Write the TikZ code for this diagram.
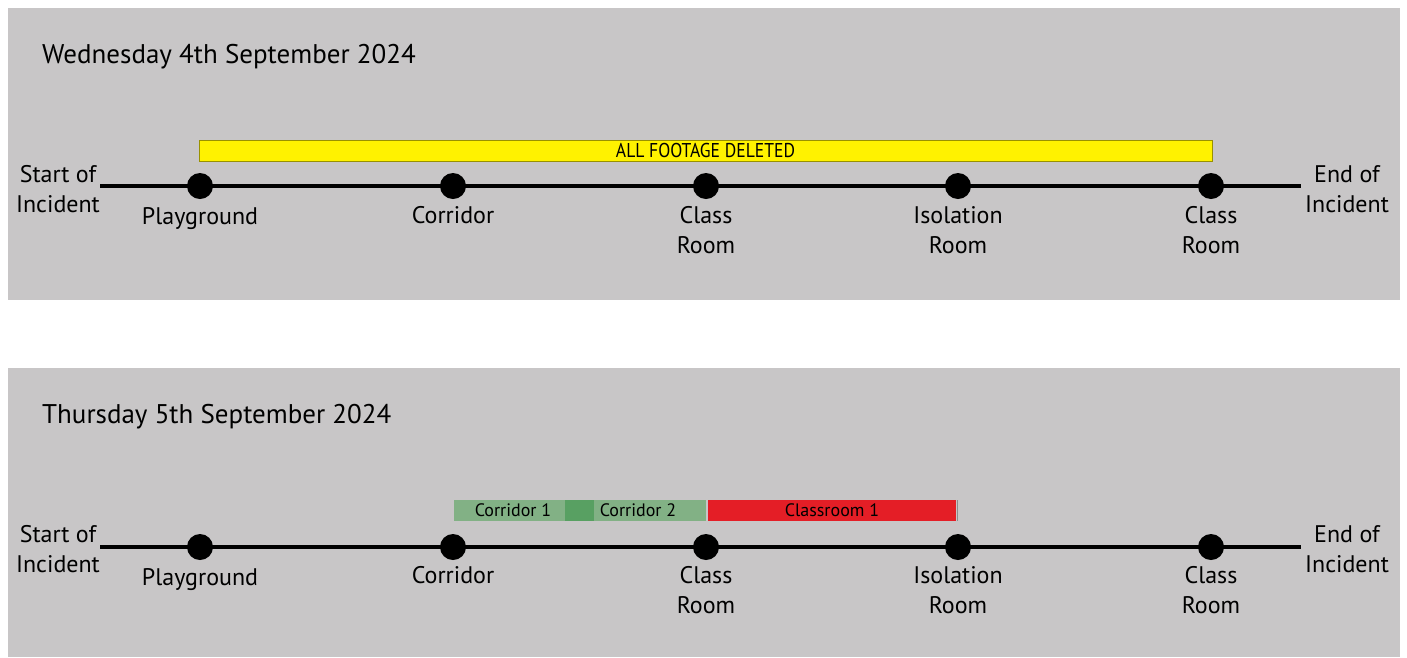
\documentclass[tikz,border=0pt]{standalone}
\usepackage{fontspec}
\setmainfont{PT Sans}
\definecolor{panel}{RGB}{200,198,199}
\definecolor{ybar}{RGB}{255,242,0}
\definecolor{gbar}{RGB}{130,177,133}
\definecolor{gdark}{RGB}{88,160,98}
\definecolor{rbar}{RGB}{228,30,38}
\begin{document}
\begin{tikzpicture}[x=1pt,y=-1pt,
  panelbox/.style={fill=panel,draw=none},
  tline/.style={line width=4.5pt,black},
  dot/.style={circle,fill=black,inner sep=0pt,minimum size=26pt},
  lbl/.style={font=\fontsize{24}{30}\selectfont,align=center,anchor=north,inner sep=0pt},
  endlbl/.style={font=\fontsize{24}{30}\selectfont,align=center,inner sep=0pt},
  title/.style={font=\fontsize{27}{30}\selectfont,anchor=west,inner sep=0pt},
  barlbl/.style={font=\fontsize{18}{20}\selectfont,inner sep=0pt}]
\useasboundingbox (0,0) rectangle (1407,657);
\fill[white] (0,0) rectangle (1407,657);
% ---------- Panel 1 ----------
\fill[panelbox] (8,8) rectangle (1400,300);
\node[title] (t1) at (42,57) {Wednesday 4th September 2024};
\node[draw=black!40!ybar,fill=ybar,minimum width=1013pt,minimum height=21pt,inner sep=0pt] (ybar) at (705.5,150.5) {};
\node[font=\fontsize{20}{22}\selectfont,inner sep=0pt,xscale=0.88] (ytxt) at (ybar.center) {ALL FOOTAGE DELETED};
\coordinate (s1) at (100,186);
\coordinate (e1) at (1301,186);
\draw[tline] (s1) -- (e1);
\node[dot] (a1) at (200,186) {};
\node[dot] (b1) at (453,186) {};
\node[dot] (c1) at (706,186) {};
\node[dot] (d1) at (958,186) {};
\node[dot] (f1) at (1211,186) {};
\node[lbl] (la1) at (200,207) {Playground};
\node[lbl] (lb1) at (453,206) {Corridor};
\node[lbl] (lc1) at (706,206) {Class\\Room};
\node[lbl] (ld1) at (958,206) {Isolation\\Room};
\node[lbl] (lf1) at (1211,206) {Class\\Room};
\node[endlbl] (st1) at (58,189) {Start of\\Incident};
\node[endlbl] (en1) at (1347,189) {End of\\Incident};
% ---------- Panel 2 ----------
\fill[panelbox] (8,368) rectangle (1400,657);
\node[title] (t2) at (42,417) {Thursday 5th September 2024};
\fill[gbar] (454,500) rectangle (565,521);
\fill[gdark] (565,500) rectangle (594,521);
\fill[gbar] (594,500) rectangle (706,521);
\fill[rbar] (708,500) rectangle (956,521);
\draw[black!45,line width=1pt] (957.5,500) -- (957.5,521);
\node[barlbl] (g1) at (513,510.5) {Corridor 1};
\node[barlbl] (g2) at (638,510.5) {Corridor 2};
\node[barlbl] (r1) at (832,510.5) {Classroom 1};
\coordinate (s2) at (100,547);
\coordinate (e2) at (1301,547);
\draw[tline] (s2) -- (e2);
\node[dot] (a2) at (200,547) {};
\node[dot] (b2) at (453,547) {};
\node[dot] (c2) at (706,547) {};
\node[dot] (d2) at (958,547) {};
\node[dot] (f2) at (1211,547) {};
\node[lbl] (la2) at (200,568) {Playground};
\node[lbl] (lb2) at (453,566) {Corridor};
\node[lbl] (lc2) at (706,566) {Class\\Room};
\node[lbl] (ld2) at (958,566) {Isolation\\Room};
\node[lbl] (lf2) at (1211,566) {Class\\Room};
\node[endlbl] (st2) at (58,549) {Start of\\Incident};
\node[endlbl] (en2) at (1347,549) {End of\\Incident};
\end{tikzpicture}
\end{document}
